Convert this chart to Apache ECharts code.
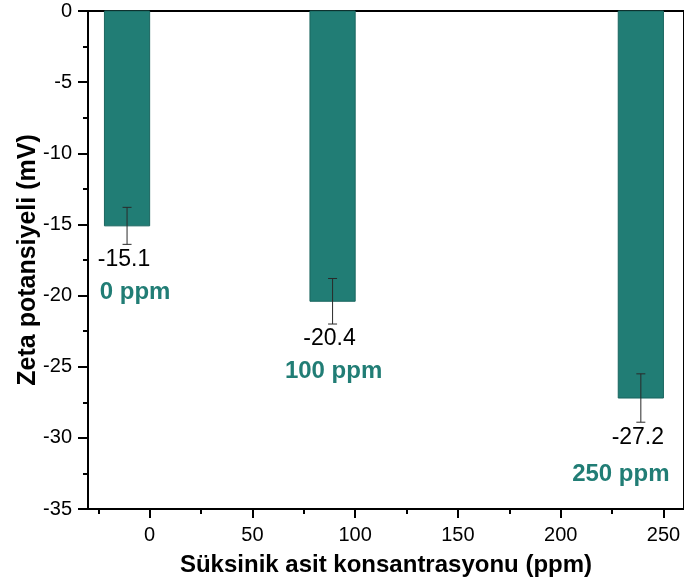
<!DOCTYPE html>
<html>
<head>
<meta charset="utf-8">
<script src="https://cdn.jsdelivr.net/npm/echarts@6/dist/echarts.min.js"></script>
<style>
  html, body { margin: 0; padding: 0; background: #fff; }
  #chart { width: 684px; height: 587px; }
</style>
</head>
<body>
<div id="chart"></div>
<script>
// Zeta potential of samples at three succinic acid concentrations
const concentrations = [0, 100, 250];        // ppm
const zetaValues = [-15.1, -20.4, -27.2];    // mV
const zetaErrors = [1.3, 1.6, 1.7];          // mV (±)
const groupLabels = ['0 ppm', '100 ppm', '250 ppm'];
const xMajorTicks = [0, 50, 100, 150, 200, 250];
const xMinorTicks = [-25, 25, 75, 125, 175, 225];

const FONT = 'Arial, "Liberation Sans", Helvetica, sans-serif';
const TEAL = '#217d75';
const BAR_SPAN = 22;                 // bar width in ppm, drawn left of its x value
const groupLabelShift = [[8, 33], [1, 32], [-20, 37]]; // px, from the value label

const chart = echarts.init(document.getElementById('chart'));

const seriesData = concentrations.map((c, i) => [c, zetaValues[i], zetaErrors[i]]);

const axisLineStyle = { color: '#000', width: 2 };

chart.setOption({
  animation: false,
  backgroundColor: '#fff',
  grid: {
    left: 88, top: 11, right: -3, bottom: 78,
    show: true, borderColor: '#000', borderWidth: 2, backgroundColor: 'transparent'
  },
  xAxis: [
    {
      type: 'value', min: -30, max: 260, position: 'bottom',
      name: 'Süksinik asit konsantrasyonu (ppm)',
      nameLocation: 'middle', nameGap: 44, nameMoveOverlap: false,
      nameTextStyle: { fontFamily: FONT, fontSize: 24, fontWeight: 'bold', color: '#000' },
      axisLine: { show: true, onZero: false, lineStyle: axisLineStyle },
      axisTick: { show: true, customValues: xMajorTicks, length: 9, lineStyle: { color: '#000', width: 2 } },
      axisLabel: { customValues: xMajorTicks, margin: 16, fontFamily: FONT, fontSize: 20, color: '#000' },
      splitLine: { show: false }
    },
    {
      type: 'value', min: -30, max: 260, position: 'bottom',
      axisLine: { show: false, onZero: false },
      axisTick: { show: true, customValues: xMinorTicks, length: 5, lineStyle: { color: '#000', width: 2 } },
      axisLabel: { show: false, customValues: xMinorTicks },
      splitLine: { show: false }
    }
  ],
  yAxis: {
    type: 'value', min: -35, max: 0, interval: 5,
    name: 'Zeta potansiyeli (mV)',
    nameLocation: 'middle', nameGap: 47, nameMoveOverlap: false,
    nameTextStyle: { fontFamily: FONT, fontSize: 25, fontWeight: 'bold', color: '#000' },
    axisLine: { show: true, onZero: false, lineStyle: axisLineStyle },
    axisTick: { show: true, length: 10, lineStyle: { color: '#000', width: 2 } },
    minorTick: { show: true, splitNumber: 2, length: 5, lineStyle: { color: '#000', width: 2 } },
    axisLabel: { margin: 16, fontFamily: FONT, fontSize: 20, color: '#000' },
    splitLine: { show: false },
    minorSplitLine: { show: false }
  },
  series: [{
    type: 'custom',
    xAxisIndex: 0,
    yAxisIndex: 0,
    data: seriesData,
    encode: { x: 0, y: 1 },
    renderItem(params, api) {
      const i = params.dataIndex;
      const x = api.value(0), v = api.value(1), e = api.value(2);
      const p0 = api.coord([x - BAR_SPAN, 0]);
      const p1 = api.coord([x, v]);
      const cx = (p0[0] + p1[0]) / 2;
      const yHi = api.coord([x, v + e])[1];
      const yLo = api.coord([x, v - e])[1];
      const cap = 4.5;
      const labelY = yLo + 15;
      const shift = groupLabelShift[i];
      return {
        type: 'group',
        children: [
          {
            type: 'rect',
            shape: { x: p0[0], y: p0[1], width: p1[0] - p0[0], height: p1[1] - p0[1] },
            style: { fill: TEAL, stroke: '#1a655f', lineWidth: 1 }
          },
          { type: 'line', shape: { x1: cx, y1: yHi, x2: cx, y2: yLo }, style: { stroke: '#2a2a2a', lineWidth: 1 } },
          { type: 'line', shape: { x1: cx - cap, y1: yHi, x2: cx + cap, y2: yHi }, style: { stroke: '#2a2a2a', lineWidth: 1 } },
          { type: 'line', shape: { x1: cx - cap, y1: yLo, x2: cx + cap, y2: yLo }, style: { stroke: '#2a2a2a', lineWidth: 1 } },
          {
            type: 'text', x: cx - 3, y: labelY,
            style: { text: v.toFixed(1), font: '23px ' + FONT, fill: '#000', align: 'center', verticalAlign: 'middle' }
          },
          {
            type: 'text', x: cx + shift[0], y: labelY + shift[1],
            style: { text: groupLabels[i], font: 'bold 24px ' + FONT, fill: TEAL, align: 'center', verticalAlign: 'middle' }
          }
        ]
      };
    }
  }]
});
</script>
</body>
</html>
